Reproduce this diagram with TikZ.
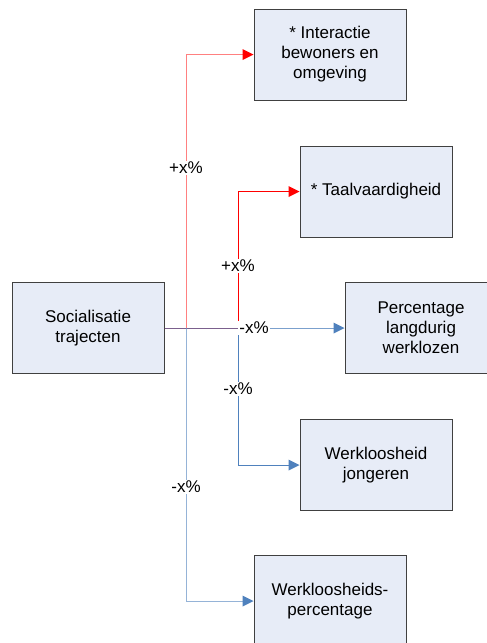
\documentclass[tikz,border=0pt]{standalone}
\usepackage{fontspec}
\setmainfont{Liberation Sans}
\usetikzlibrary{arrows.meta}
\definecolor{boxfill}{RGB}{231,236,247}
\definecolor{boxline}{RGB}{64,64,64}
\definecolor{redlight}{RGB}{255,128,128}
\definecolor{redfull}{RGB}{255,0,0}
\definecolor{bluefull}{RGB}{79,129,189}
\definecolor{bluelight}{RGB}{149,179,215}
\tikzset{
  boxnode/.style={draw=boxline, fill=boxfill, line width=1pt,
    minimum width=152pt, minimum height=91pt, inner sep=2pt,
    align=center, font=\fontsize{17}{20}\selectfont},
  lbl/.style={fill=white, inner sep=1pt, font=\fontsize{17}{20}\selectfont},
  conn/.style={line width=1pt},
  tipin/.style={-{Triangle[length=11pt,width=11pt,line width=0pt,color=#1]}}
}
\begin{document}
\begin{tikzpicture}[x=1pt,y=-1pt]
\clip (0,0) rectangle (487,643);
\useasboundingbox (0,0) rectangle (487,643);
\fill[white] (0,0) rectangle (487,643);

\node[boxnode] (interactie) at (330,54.5) {* Interactie\\bewoners en\\omgeving};
\node[boxnode] (taal) at (376,191.5) {* Taalvaardigheid};
\node[boxnode] (perc) at (421,328) {Percentage\\langdurig\\werklozen};
\node[boxnode] (soc) at (88,328) {Socialisatie\\trajecten};
\node[boxnode] (jong) at (376,465) {Werkloosheid\\jongeren};
\node[boxnode] (wperc) at (330,601) {Werkloosheids-\\percentage};

\coordinate (j1) at (186,328);
\coordinate (j2) at (238,328);

\draw[conn, redlight, tipin=redfull] (soc.east) -- (j1) |- (interactie.west);
\draw[conn, redfull, tipin=redfull] (soc.east) -- (j2) |- (taal.west);
\draw[conn, bluelight, tipin=bluefull] (j1) |- (wperc.west);
\draw[conn, bluefull, tipin=bluefull] (j2) |- (jong.west);
\draw[conn, bluefull, draw opacity=0.75, tipin=bluefull] (soc.east) -- (perc.west);

\node[lbl] (l1) at (186,168) {+x\%};
\node[lbl] (l2) at (238,266) {+x\%};
\node[lbl] (l3) at (254,328) {-x\%};
\node[lbl] (l4) at (238,389) {-x\%};
\node[lbl] (l5) at (186,487) {-x\%};
\end{tikzpicture}
\end{document}
